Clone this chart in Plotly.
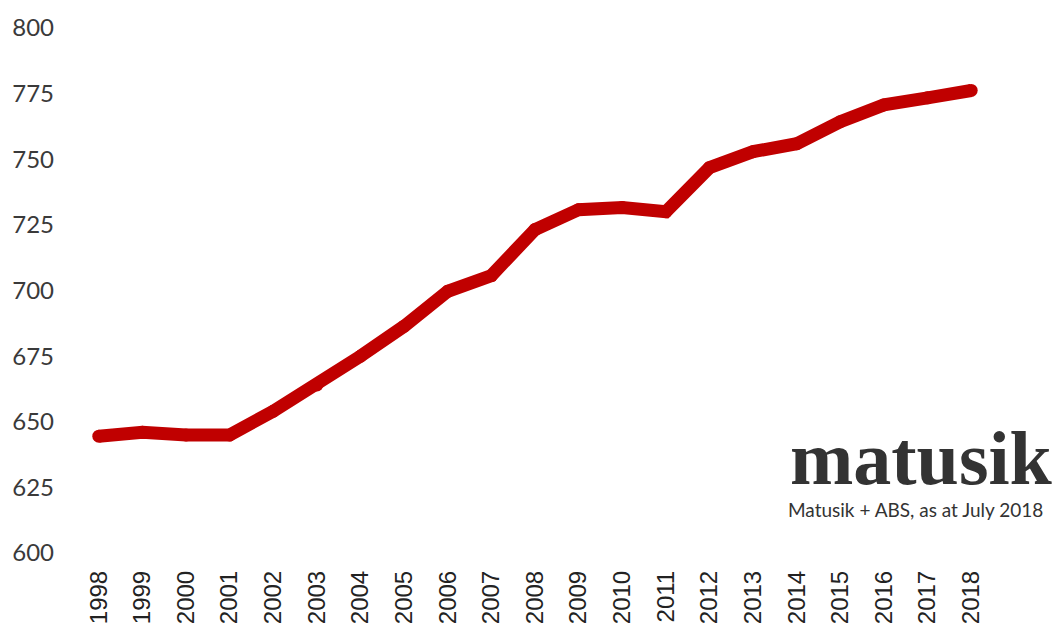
import plotly.graph_objects as go

years = list(range(1998, 2019))
values = [644.5, 646, 645, 645, 654, 664, 675, 686.4, 699.7, 705.7, 723.2,
          730.8, 731.6, 730, 746.8, 752.9, 755.9, 764.3, 770.7, 773.4, 776.2]
y_ticks = [600, 625, 650, 675, 700, 725, 750, 775, 800]
x_tick_labels = [str(y) for y in years]

line_color = "#C00000"
text_color = "#3a3a3a"

fig = go.Figure()
fig.add_trace(go.Scatter(
    x=years, y=values, mode="lines+markers",
    line=dict(color=line_color, width=13),
    marker=dict(color=line_color, size=13, line=dict(width=0)),
    hoverinfo="x+y", showlegend=False,
))

fig.update_layout(
    width=1061, height=626,
    margin=dict(l=69, r=76, t=20, b=81, autoexpand=False),
    paper_bgcolor="white", plot_bgcolor="white",
    font=dict(family="Lato, sans-serif", color=text_color, size=20),
    xaxis=dict(
        range=[1997.5, 2018.5], tickmode="array", tickvals=years,
        ticktext=x_tick_labels, tickangle=-90, showgrid=False,
        zeroline=False, showline=False, ticks="", automargin=False,
        tickfont=dict(size=24, family="Liberation Sans, Arial, sans-serif", color="#222222"),
        ticklabelstandoff=12,
    ),
    yaxis=dict(
        range=[600, 800], tickmode="array", tickvals=y_ticks,
        showgrid=False, zeroline=False, showline=False, ticks="", automargin=False,
        tickfont=dict(size=24, family="Lato, sans-serif", color=text_color),
        ticklabelstandoff=22,
    ),
    annotations=[
        dict(text="<b>matusik</b>", xref="paper", yref="paper",
             x=1.0, y=0.097, xanchor="right", yanchor="bottom",
             xshift=62, showarrow=False,
             font=dict(family="Liberation Serif, serif", size=76, color="#333333")),
        dict(text="Matusik + ABS, as at July 2018", xref="paper", yref="paper",
             x=1.0, y=0.082, xanchor="right", yanchor="middle",
             xshift=52, showarrow=False,
             font=dict(family="Lato, sans-serif", size=19, color="#333333")),
    ],
)

fig.write_html("out.html")
